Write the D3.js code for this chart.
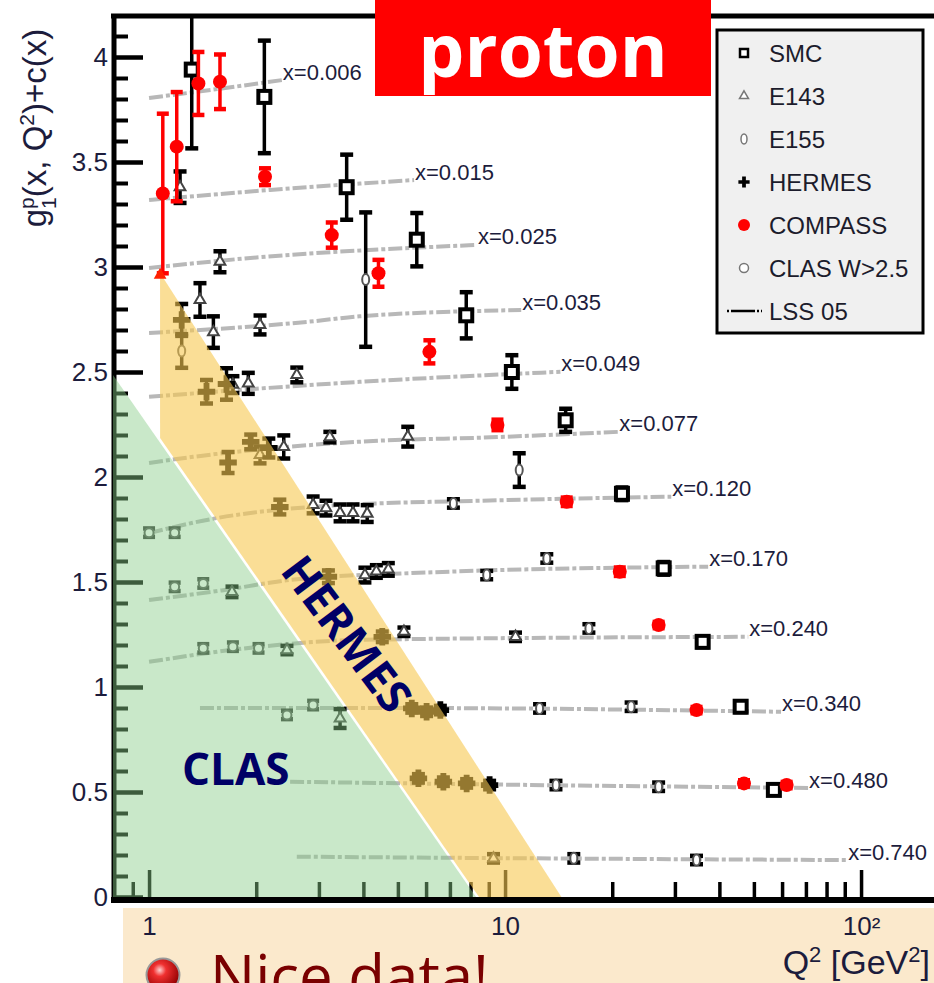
<!DOCTYPE html>
<html>
<head>
<meta charset="utf-8">
<script src="https://cdn.jsdelivr.net/npm/d3@7"></script>
<style>
  html, body { margin: 0; padding: 0; background: #fff; }
  svg { display: block; }
</style>
</head>
<body>
<script>
// ---------- data: g1p(x,Q2)+c(x) versus Q2 ----------
// each point: [Q2 (GeV^2), g1 + c(x), statistical error]
const smcPoints = [
  [1.318, 3.94, 0.375], [2.108, 3.81, 0.268], [3.59, 3.38, 0.155], [5.65, 3.13, 0.127],
  [7.78, 2.77, 0.11], [10.45, 2.50, 0.08], [14.8, 2.27, 0.055], [21.3, 1.92, 0.03],
  [27.9, 1.565, 0.03], [35.9, 1.215, 0.025], [45.9, 0.906, 0.025], [56.9, 0.51, 0.02]
];
const e143Points = [
  [1.222, 3.38, 0.075], [1.582, 3.025, 0.05], [1.39, 2.843, 0.08], [1.516, 2.69, 0.075],
  [2.05, 2.724, 0.045], [1.72, 2.44, 0.04], [1.9, 2.446, 0.05], [2.6, 2.486, 0.035],
  [2.05, 2.105, 0.04], [2.39, 2.143, 0.055], [3.22, 2.19, 0.025], [5.33, 2.192, 0.047],
  [2.89, 1.867, 0.04], [3.14, 1.852, 0.035], [3.44, 1.829, 0.04], [3.74, 1.829, 0.04],
  [4.1, 1.826, 0.04], [1.71, 1.453, 0.025], [4.04, 1.533, 0.035], [4.35, 1.55, 0.03],
  [4.7, 1.56, 0.03], [5.2, 1.263, 0.02], [10.7, 1.239, 0.02], [3.44, 0.85, 0.045],
  [2.44, 1.176, 0.02], [9.28, 0.184, 0.02]
];
const e155Points = [
  [4.06, 2.94, 0.32], [1.235, 2.60, 0.08], [10.96, 2.033, 0.08], [7.16, 1.874, 0.02],
  [8.88, 1.533, 0.02], [13.1, 1.612, 0.02], [17.2, 1.279, 0.02], [12.5, 0.898, 0.02],
  [22.6, 0.906, 0.02], [13.9, 0.533, 0.02], [27.0, 0.525, 0.02], [15.6, 0.184, 0.02],
  [34.5, 0.176, 0.02]
];
const hermesPoints = [
  [1.235, 2.748, 0.076], [1.45, 2.406, 0.056], [1.65, 2.443, 0.075], [1.667, 2.069, 0.05],
  [1.93, 2.167, 0.035], [2.17, 2.138, 0.045], [2.33, 1.857, 0.035], [3.19, 1.525, 0.03],
  [4.52, 1.239, 0.025], [5.47, 0.898, 0.02], [6.02, 0.882, 0.02], [6.58, 0.89, 0.02],
  [5.71, 0.565, 0.02], [6.71, 0.549, 0.02], [7.8, 0.541, 0.02], [9.05, 0.533, 0.02]
];
const compassPoints = [
  [1.093, 3.35, 0.38], [1.196, 3.573, 0.26], [1.376, 3.874, 0.15], [1.582, 3.882, 0.13],
  [2.117, 3.43, 0.04], [3.26, 3.152, 0.06], [4.41, 2.97, 0.064], [6.13, 2.596, 0.055],
  [9.52, 2.248, 0.025], [14.9, 1.882, 0.02], [21.0, 1.549, 0.02], [27.0, 1.295, 0.015],
  [34.5, 0.89, 0.015], [46.9, 0.541, 0.015], [61.8, 0.533, 0.015]
];
const clasPoints = [
  [1.0, 1.735, 0.02], [1.18, 1.735, 0.02], [1.18, 1.477, 0.02], [1.42, 1.493, 0.02],
  [1.42, 1.184, 0.02], [1.72, 1.192, 0.02], [2.03, 1.184, 0.02],
  [2.44, 0.867, 0.02], [2.89, 0.914, 0.02]
];

// LSS 05 fit curves, one per x bin
const binLabels = ["x=0.006", "x=0.015", "x=0.025", "x=0.035", "x=0.049", "x=0.077",
                   "x=0.120", "x=0.170", "x=0.240", "x=0.340", "x=0.480", "x=0.740"];
const lssCurves = [
  [[1.0, 3.805], [1.6, 3.85], [2.36, 3.89]],
  [[1.0, 3.319], [2.19, 3.367], [5.55, 3.414]],
  [[1.0, 2.995], [1.84, 3.04], [8.34, 3.105]],
  [[1.0, 2.686], [2.83, 2.74], [3.9, 2.765], [11.1, 2.795]],
  [[1.0, 2.382], [3.9, 2.453], [14.3, 2.501]],
  [[1.0, 2.067], [1.33, 2.096], [3.9, 2.168], [9.5, 2.19], [20.8, 2.215]],
  [[1.0, 1.733], [1.5, 1.80], [3.0, 1.86], [10, 1.89], [29.3, 1.906]],
  [[1.0, 1.414], [1.6, 1.46], [2.5, 1.51], [6, 1.545], [37.2, 1.573]],
  [[1.0, 1.12], [2.0, 1.19], [4.0, 1.225], [48.2, 1.239]],
  [[1.39, 0.90], [5, 0.90], [59.6, 0.882]],
  [[2.49, 0.549], [10, 0.535], [71, 0.519]],
  [[2.6, 0.192], [10, 0.185], [91.4, 0.176]]
];

// kinematic regions covered by CLAS and HERMES (Q2, g1 + c)
const clasRegion = [[0.792, 0], [0.792, 2.486], [8.29, 0]];
const hermesRegion = [[1.074, 2.971], [14.4, 0], [8.45, 0], [1.074, 2.186]];

// axis ticks
const xMajorTicks = [1, 10, 100];
const xMajorLabels = ["1", "10", "10²"];
const xMinorTicks = [0.9, 2, 3, 4, 5, 6, 7, 8, 9, 20, 30, 40, 50, 60, 70, 80, 90];
const yMajorTicks = [0, 0.5, 1, 1.5, 2, 2.5, 3, 3.5, 4];
const yMinorTicks = [0.1,0.2,0.3,0.4,0.6,0.7,0.8,0.9,1.1,1.2,1.3,1.4,1.6,1.7,1.8,1.9,
  2.1,2.2,2.3,2.4,2.6,2.7,2.8,2.9,3.1,3.2,3.3,3.4,3.6,3.7,3.8,3.9,4.1];

const legendNames = ["SMC", "E143", "E155", "HERMES", "COMPASS", "CLAS W>2.5", "LSS 05"];

// ---------- drawing ----------
const W = 934, H = 983;
const svg = d3.select("body").append("svg")
  .attr("width", W).attr("height", H)
  .style("font-family", "'Liberation Sans', Arial, sans-serif");

const xMin = 0.792, xMax = 195;
const x = d3.scaleLog().domain([xMin, xMax]).range([113, 113 + 356 * Math.log10(xMax / xMin)]);
const y = d3.scaleLinear().domain([0, 4.2]).range([897, 15]);

const defs = svg.append("defs");
defs.append("clipPath").attr("id", "plotClip")
  .append("rect").attr("x", 116).attr("y", 18).attr("width", W - 116).attr("height", 879);
const ball = defs.append("radialGradient").attr("id", "ballGrad")
  .attr("cx", "40%").attr("cy", "35%").attr("r", "65%");
ball.append("stop").attr("offset", "0%").attr("stop-color", "#ffd0d0");
ball.append("stop").attr("offset", "30%").attr("stop-color", "#f03030");
ball.append("stop").attr("offset", "100%").attr("stop-color", "#900000");

// slide band under the axis
svg.append("rect").attr("x", 123).attr("y", 908).attr("width", W - 123).attr("height", H - 908)
  .attr("fill", "#fbe9cc");

// LSS 05 curves
const line = d3.line().x(d => x(d[0])).y(d => y(d[1])).curve(d3.curveMonotoneX);
const curveG = svg.append("g").attr("clip-path", "url(#plotClip)");
curveG.selectAll("path.lss").data(lssCurves).join("path")
  .attr("class", "lss")
  .attr("d", line)
  .attr("fill", "none")
  .attr("stroke", "#b8b8b8")
  .attr("stroke-width", 4)
  .attr("stroke-dasharray", "14,3,4,3");

// data points with error bars
const dataG = svg.append("g").attr("clip-path", "url(#plotClip)");
function drawSeries(points, barColor, drawMarker, capHalf) {
  const g = dataG.append("g");
  const pt = g.selectAll("g").data(points).join("g");
  pt.append("line")
    .attr("x1", d => x(d[0])).attr("x2", d => x(d[0]))
    .attr("y1", d => y(d[1] - d[2])).attr("y2", d => y(d[1] + d[2]))
    .attr("stroke", barColor).attr("stroke-width", 3.5);
  [-1, 1].forEach(s => {
    pt.append("line")
      .attr("x1", d => x(d[0]) - capHalf).attr("x2", d => x(d[0]) + capHalf)
      .attr("y1", d => y(d[1] + s * d[2])).attr("y2", d => y(d[1] + s * d[2]))
      .attr("stroke", barColor).attr("stroke-width", 4.5);
  });
  pt.each(function (d) { drawMarker(d3.select(this), x(d[0]), y(d[1])); });
}
const markers = {
  smc: (s, cx, cy) => s.append("rect").attr("x", cx - 6).attr("y", cy - 6)
    .attr("width", 12).attr("height", 12).attr("fill", "#fff").attr("stroke", "#000").attr("stroke-width", 4),
  e143: (s, cx, cy) => s.append("path").attr("transform", `translate(${cx},${cy})`)
    .attr("d", d3.symbol(d3.symbolTriangle, 50)()).attr("fill", "#fff").attr("stroke", "#444").attr("stroke-width", 2),
  e155: (s, cx, cy) => s.append("ellipse").attr("cx", cx).attr("cy", cy).attr("rx", 3.5).attr("ry", 5.5)
    .attr("fill", "#fff").attr("stroke", "#555").attr("stroke-width", 2),
  hermes: (s, cx, cy) => s.append("path").attr("transform", `translate(${cx},${cy})`)
    .attr("d", d3.symbol(d3.symbolCross, 170)()).attr("fill", "#000"),
  compass: (s, cx, cy) => s.append("circle").attr("cx", cx).attr("cy", cy).attr("r", 7).attr("fill", "#ff0000"),
  clas: (s, cx, cy) => s.append("circle").attr("cx", cx).attr("cy", cy).attr("r", 4.5)
    .attr("fill", "#fff").attr("stroke", "#555").attr("stroke-width", 2)
};
drawSeries(clasPoints, "#333", markers.clas, 6);
drawSeries(e155Points, "#000", markers.e155, 6.5);
drawSeries(e143Points, "#000", markers.e143, 6.5);
drawSeries(hermesPoints, "#000", markers.hermes, 6.5);
drawSeries(smcPoints, "#000", markers.smc, 6.5);
drawSeries(compassPoints, "#ff0000", markers.compass, 6);

// axes
const tickColor = "#1c1c3c";
const yAxisMajor = d3.axisLeft(y).tickValues(yMajorTicks).tickSize(-29).tickPadding(6)
  .tickFormat(d3.format("~g"));
const yAxisMinor = d3.axisLeft(y).tickValues(yMinorTicks).tickSize(-14).tickFormat("");
const xAxisMajor = d3.axisBottom(x).tickValues(xMajorTicks).tickSize(-30).tickPadding(17)
  .tickFormat((d, i) => xMajorLabels[i]);
const xAxisMinor = d3.axisBottom(x).tickValues(xMinorTicks).tickSize(-18).tickFormat("");

function styleAxis(g, width) {
  g.select(".domain").remove();
  g.selectAll(".tick line").attr("stroke", "#000").attr("stroke-width", width);
  g.selectAll(".tick text").attr("fill", tickColor).attr("font-size", 26)
    .attr("font-family", "'Liberation Sans', Arial, sans-serif");
}
svg.append("g").attr("transform", "translate(114,0)").call(yAxisMinor).call(g => styleAxis(g, 4));
svg.append("g").attr("transform", "translate(114,0)").call(yAxisMajor).call(g => styleAxis(g, 4.5));
svg.append("g").attr("transform", "translate(0,900)").call(xAxisMinor).call(g => styleAxis(g, 3.5));
svg.append("g").attr("transform", "translate(0,900)").call(xAxisMajor).call(g => styleAxis(g, 3.5));

// frame
svg.append("line").attr("x1", 111).attr("x2", W).attr("y1", 16).attr("y2", 16)
  .attr("stroke", "#000").attr("stroke-width", 5);
svg.append("line").attr("x1", 114).attr("x2", 114).attr("y1", 14).attr("y2", 903)
  .attr("stroke", "#000").attr("stroke-width", 5);
svg.append("line").attr("x1", 111).attr("x2", W).attr("y1", 900).attr("y2", 900)
  .attr("stroke", "#000").attr("stroke-width", 6);

// CLAS and HERMES regions
const poly = pts => "M" + pts.map(p => `${x(p[0])},${y(p[1])}`).join("L") + "Z";
svg.append("path").attr("d", poly(clasRegion))
  .attr("fill", "rgb(135,205,135)").attr("fill-opacity", 0.45);
svg.append("path").attr("d", poly(hermesRegion))
  .attr("fill", "rgb(247,200,80)").attr("fill-opacity", 0.6);
svg.append("path")
  .attr("transform", `translate(${x(hermesRegion[0][0])},${y(hermesRegion[0][1]) + 2})`)
  .attr("d", d3.symbol(d3.symbolTriangle, 70)()).attr("fill", "#ff2000");

svg.append("text").attr("x", 182).attr("y", 785).text("CLAS")
  .attr("font-family", "'Open Sans', 'Noto Sans', sans-serif").attr("font-weight", 700)
  .attr("font-size", 44).attr("fill", "#000066");
svg.append("text").attr("transform", "translate(348,633) rotate(53)").attr("text-anchor", "middle")
  .attr("dominant-baseline", "central").text("HERMES")
  .attr("font-family", "'Open Sans', 'Noto Sans', sans-serif").attr("font-weight", 700)
  .attr("font-size", 45).attr("fill", "#000066");

// bin labels at the end of each curve
svg.append("g").selectAll("text").data(lssCurves).join("text")
  .attr("x", d => x(d[d.length - 1][0]) + 1)
  .attr("y", d => y(d[d.length - 1][1]) - 8)
  .attr("dominant-baseline", "central")
  .attr("font-size", 22).attr("fill", "#1c1c3c")
  .text((d, i) => binLabels[i]);

// axis titles
const yTitle = svg.append("text").attr("transform", "translate(46,128) rotate(-90)")
  .attr("text-anchor", "middle").attr("font-size", 33).attr("fill", tickColor);
yTitle.append("tspan").text("g");
yTitle.append("tspan").attr("font-size", 21).attr("dy", -12).text("p");
yTitle.append("tspan").attr("font-size", 21).attr("dx", -11.7).attr("dy", 22).text("1");
yTitle.append("tspan").attr("dy", -10).text("(x, Q");
yTitle.append("tspan").attr("font-size", 21).attr("dy", -12).text("2");
yTitle.append("tspan").attr("dy", 12).text(")+c(x)");

const xTitle = svg.append("text").attr("x", 930).attr("y", 974).attr("text-anchor", "end")
  .attr("font-size", 34).attr("fill", tickColor);
xTitle.append("tspan").text("Q");
xTitle.append("tspan").attr("font-size", 22).attr("dy", -12).text("2");
xTitle.append("tspan").attr("dy", 12).text(" [GeV");
xTitle.append("tspan").attr("font-size", 22).attr("dy", -12).text("2");
xTitle.append("tspan").attr("dy", 12).text("]");

// legend
const legend = svg.append("g");
legend.append("rect").attr("x", 717).attr("y", 30).attr("width", 206).attr("height", 303)
  .attr("fill", "#f0f0f0").attr("stroke", "#000").attr("stroke-width", 3);
const legendMarkers = [markers.smc, markers.e143, markers.e155, markers.hermes, markers.compass, markers.clas];
legendNames.forEach((name, i) => {
  const ly = 53 + i * 43;
  const row = legend.append("g");
  if (i < legendMarkers.length) {
    legendMarkers[i](row, 744, ly);
    if (i === 0) row.select("rect").attr("x", 740).attr("y", ly - 4).attr("width", 8).attr("height", 8).attr("stroke-width", 2.5);
    if (i === 1) row.select("path").attr("d", d3.symbol(d3.symbolTriangle, 35)()).attr("stroke", "#777").attr("stroke-width", 1.5);
    if (i === 2) row.select("ellipse").attr("rx", 3).attr("ry", 5).attr("stroke", "#777").attr("stroke-width", 1.5);
    if (i === 3) row.select("path").attr("d", d3.symbol(d3.symbolCross, 70)());
    if (i === 4) row.select("circle").attr("r", 6);
    if (i === 5) row.select("circle").attr("stroke", "#777").attr("stroke-width", 1.5);
  } else {
    row.append("line").attr("x1", 727).attr("x2", 762).attr("y1", ly).attr("y2", ly)
      .attr("stroke", "#000").attr("stroke-width", 2.5).attr("stroke-dasharray", "2,2,24,2,2,2");
  }
  row.append("text").attr("x", 769).attr("y", ly).attr("dominant-baseline", "central")
    .attr("font-size", 24).attr("fill", "#1c1c2c").text(name);
});

// title box
svg.append("rect").attr("x", 375).attr("y", 0).attr("width", 336).attr("height", 96).attr("fill", "#ff0000");
svg.append("text").attr("x", 543).attr("y", 77).attr("text-anchor", "middle")
  .attr("font-family", "'Open Sans', 'Noto Sans', sans-serif").attr("font-weight", 700)
  .attr("font-size", 73).attr("fill", "#fff").text("proton");

// bullet line at the bottom
svg.append("circle").attr("cx", 163).attr("cy", 975).attr("r", 16.5)
  .attr("fill", "url(#ballGrad)").attr("stroke", "#999").attr("stroke-width", 2);
svg.append("text").attr("x", 210).attr("y", 998)
  .attr("font-family", "'Open Sans', 'Noto Sans', sans-serif")
  .attr("font-size", 60).attr("fill", "#7a0000").text("Nice data!");
</script>
</body>
</html>
